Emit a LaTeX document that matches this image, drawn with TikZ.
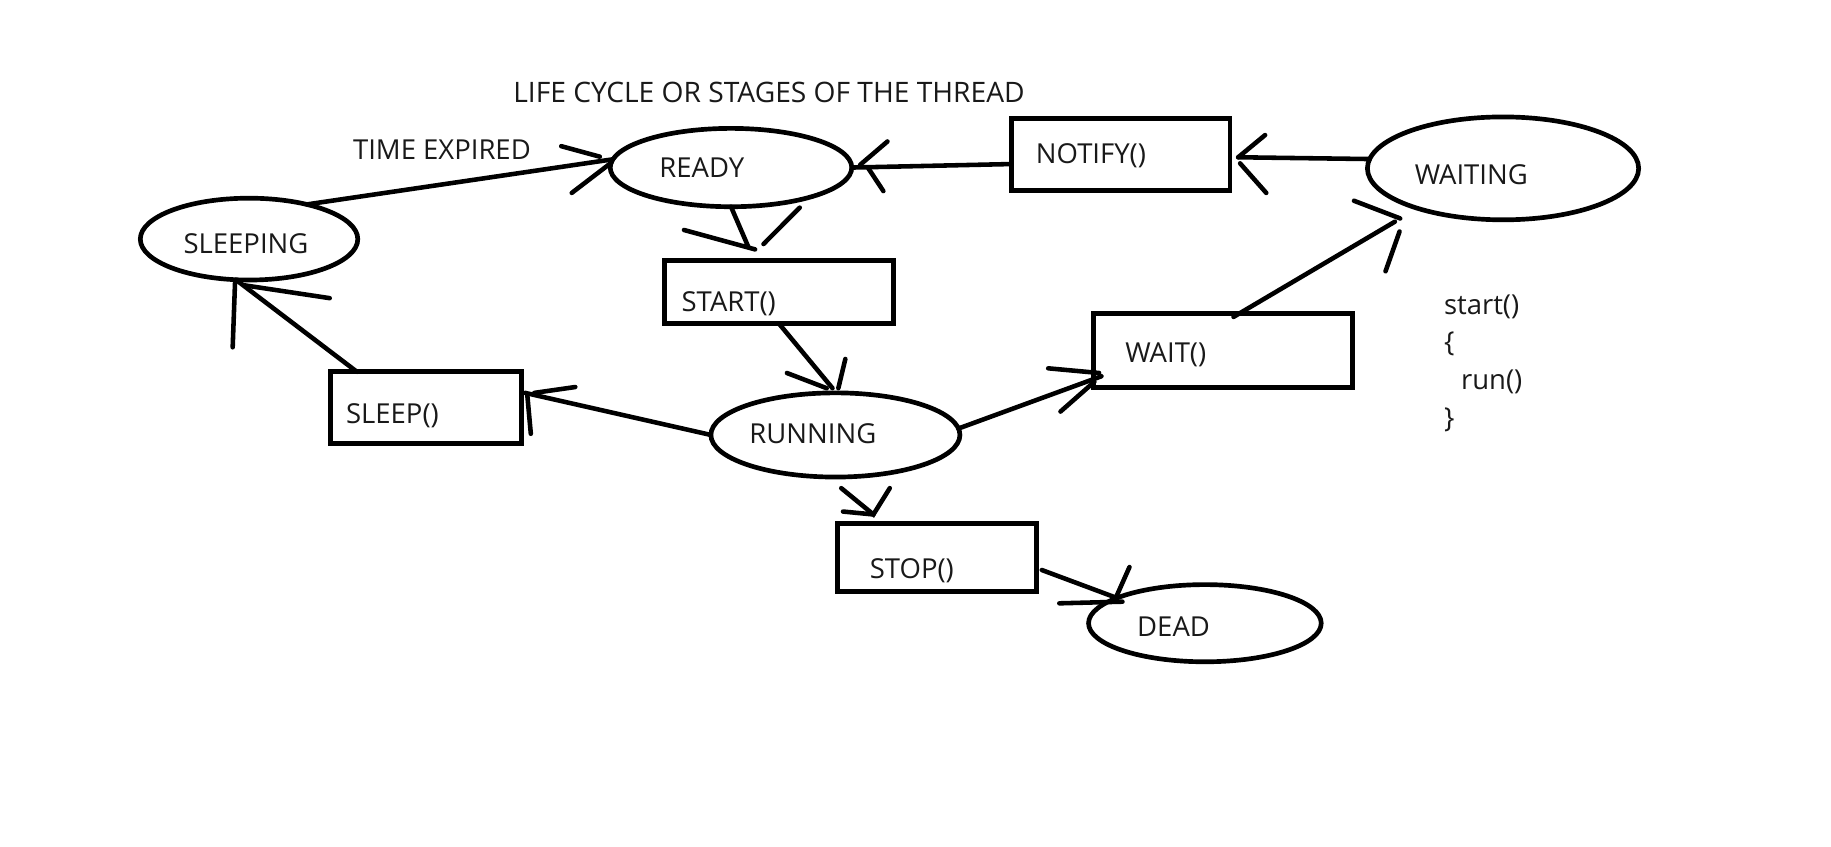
\documentclass[tikz,border=0pt]{standalone}
\usepackage{fontspec}
\setmainfont{Open Sans}
\usetikzlibrary{shapes.geometric}
\newcommand\lbfont{\fontsize{23.5}{28}\selectfont}
\newcommand\ttlfont{\fontsize{24.1}{28}\selectfont}
\tikzset{
  ell/.style={draw, ellipse, line width=4pt, inner sep=0pt, outer sep=0pt},
  box/.style={draw, rectangle, line width=4.2pt, inner sep=0pt, outer sep=0pt},
  lbl/.style={anchor=base west, inner sep=0pt, outer sep=0pt, font=\lbfont, text=black!90},
  con/.style={line width=3.9pt, line cap=round},
}
\begin{document}
\begin{tikzpicture}[x=1pt, y=-1pt]
\fill[white] (0,0) rectangle (1566,723.6);
\useasboundingbox (0,0) rectangle (1566,723.6);

% shapes
\node[ell, minimum width=206.6pt, minimum height=67pt] (ready) at (625.2,143.3) {};
\node[box, minimum width=187pt, minimum height=62pt] (notify) at (958.5,132) {};
\node[ell, minimum width=232pt, minimum height=88pt] (waiting) at (1285.5,144) {};
\node[ell, minimum width=186pt, minimum height=70pt] (sleeping) at (213,204.5) {};
\node[box, minimum width=196pt, minimum height=54pt] (start) at (666,249.5) {};
\node[box, minimum width=222pt, minimum height=63.5pt] (wait) at (1046,299.8) {};
\node[box, minimum width=163.5pt, minimum height=61pt] (sleep) at (364.3,348.5) {};
\node[ell, minimum width=213pt, minimum height=72pt] (running) at (714.5,372) {};
\node[box, minimum width=170pt, minimum height=58pt] (stop) at (801.5,477) {};
\node[ell, minimum width=199pt, minimum height=66pt] (dead) at (1030.5,533) {};

% texts
\node[lbl, font=\ttlfont] (title) at (439,87.8) {LIFE CYCLE OR STAGES OF THE THREAD};
\node[lbl] (timeexp) at (302,136.3) {TIME EXPIRED};
\node[lbl] (tready) at (564,152) {READY};
\node[lbl] (tnotify) at (886,139.7) {NOTIFY()};
\node[lbl] (twaiting) at (1210,158) {WAITING};
\node[lbl] (tsleeping) at (157,217) {SLEEPING};
\node[lbl] (tstart) at (583,266.6) {START()};
\node[lbl] (twait) at (962.5,310) {WAIT()};
\node[lbl] (tsleep) at (296,362) {SLEEP()};
\node[lbl] (trunning) at (641,379) {RUNNING};
\node[lbl] (tstop) at (744,494.5) {STOP()};
\node[lbl] (tdead) at (972.6,544.5) {DEAD};
\node[lbl] (c1) at (1235,268.6) {start()};
\node[lbl] (c2) at (1235,301) {\{};
\node[lbl] (c3) at (1249.6,333.5) {run()};
\node[lbl] (c4) at (1235,366) {\}};

% arrowhead stroke end points
\coordinate (a1p) at (480,125);   \coordinate (a1q) at (513,134);
\coordinate (a1r) at (489,165);   \coordinate (a1s) at (523,139);
\coordinate (a2p) at (759,121);   \coordinate (a2q) at (735.6,141);
\coordinate (a2r) at (742.7,144); \coordinate (a2s) at (755.5,163.4);
\coordinate (a3p) at (1082,115.5);\coordinate (a3q) at (1059,134.5);
\coordinate (a3r) at (1060.6,139.7); \coordinate (a3s) at (1083,165);
\coordinate (a4p) at (585,196.7); \coordinate (a4q) at (645.8,213.3);
\coordinate (a4r) at (684,177.6); \coordinate (a4s) at (653,208.7);
\coordinate (a5p) at (673,319);   \coordinate (a5q) at (707,332);
\coordinate (a5r) at (723,307);   \coordinate (a5s) at (717,332);
\coordinate (a6p) at (492,331);   \coordinate (a6q) at (457,336);
\coordinate (a6r) at (451,338);   \coordinate (a6s) at (454,371);
\coordinate (a7p) at (209,244);   \coordinate (a7q) at (282,255);
\coordinate (a7r) at (201,242);   \coordinate (a7s) at (199,297);
\coordinate (a8p) at (896.5,315); \coordinate (a8q) at (940,319);
\coordinate (a8r) at (907,352);   \coordinate (a8s) at (936,326.5);
\coordinate (a9p) at (1158,171.7);\coordinate (a9q) at (1197.5,186.8);
\coordinate (a9r) at (1197,198);  \coordinate (a9s) at (1185,232);
\coordinate (a10p) at (719.5,417.5); \coordinate (a10v) at (747,440);
\coordinate (a10r) at (761,417.5);   \coordinate (a10t) at (721,437.5);
\coordinate (a11p) at (966,485);  \coordinate (a11q) at (954,512);
\coordinate (a11r) at (906,516);  \coordinate (a11s) at (960,514.6);

% connectors
% sleeping -> ready (time expired)
\draw[con] (sleeping.31) -- (ready.176);
\draw[con] (a1p) -- (a1q);
\draw[con] (a1r) -- (a1s);
% notify -> ready
\draw[con] ([yshift=-8.3pt]notify.west) -- (ready.east);
\draw[con] (a2p) -- (a2q);
\draw[con] (a2r) -- (a2s);
% waiting -> notify
\draw[con] (waiting.176) -- ([xshift=7pt,yshift=-2.5pt]notify.east);
\draw[con] (a3p) -- (a3q);
\draw[con] (a3r) -- (a3s);
% ready -> start
\draw[con] (ready.south) -- ([xshift=-26pt,yshift=11.4pt]start.north);
\draw[con] (a4p) -- (a4q);
\draw[con] (a4r) -- (a4s);
% start -> running
\draw[con] (start.south) -- ([xshift=-2.5pt,yshift=4pt]running.north);
\draw[con] (a5p) -- (a5q);
\draw[con] (a5r) -- (a5s);
% running -> sleep
\draw[con] (running.west) -- ([xshift=3pt,yshift=12.5pt]sleep.east);
\draw[con] (a6p) -- (a6q);
\draw[con] (a6r) -- (a6s);
% sleep -> sleeping
\draw[con] ([xshift=-59pt]sleep.north) -- (sleeping.252);
\draw[con] (a7p) -- (a7q);
\draw[con] (a7r) -- (a7s);
% running -> wait
\draw[con] (running.3) -- ([xshift=7pt,yshift=-22pt]wait.west);
\draw[con] (a8p) -- (a8q);
\draw[con] (a8r) -- (a8s);
% wait -> waiting
\draw[con] ([xshift=9pt,yshift=-3pt]wait.north) -- ([xshift=-92.5pt,yshift=-45.6pt]waiting.center);
\draw[con] (a9p) -- (a9q);
\draw[con] (a9r) -- (a9s);
% running -> stop (head only)
\draw[con] (a10p) -- (a10v) -- (a10r);
\draw[con] (a10t) -- (a10v);
% stop -> dead
\draw[con] ([xshift=4.5pt,yshift=-10.5pt]stop.east) -- (dead.164);
\draw[con] (a11p) -- (a11q);
\draw[con] (a11r) -- (a11s);
\end{tikzpicture}
\end{document}
